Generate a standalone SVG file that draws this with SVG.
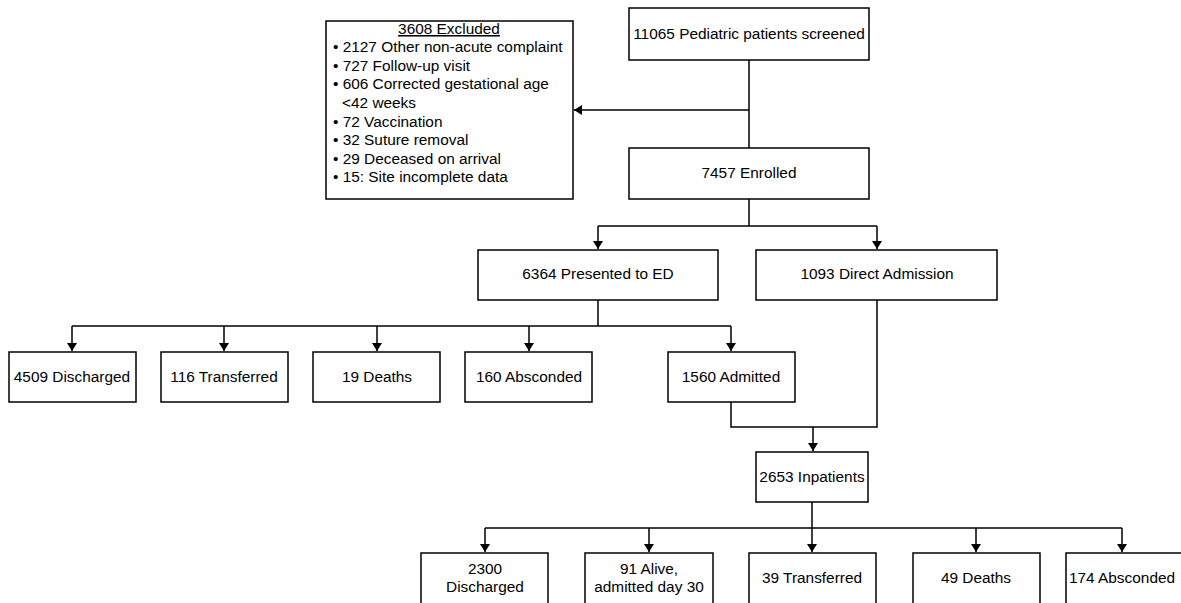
<svg xmlns="http://www.w3.org/2000/svg" width="1181" height="603" viewBox="0 0 1181 603">
<style>
.box{fill:#fff;stroke:#000;stroke-width:1.5}
text{font-family:"Liberation Sans",Arial,sans-serif;font-size:15.4px;fill:#000}
.c{text-anchor:middle}
.ln{fill:none;stroke:#000;stroke-width:1.5}
</style>
<defs>
<marker id="ah" markerWidth="8" markerHeight="10" refX="8" refY="5" orient="auto" markerUnits="userSpaceOnUse">
<path d="M0,0 L8,5 L0,10 Z" fill="#000"/>
</marker>
</defs>
<rect width="1181" height="603" fill="#fff"/>
<g id="connectors">
<path class="ln" d="M749,60 V148"/>
<path class="ln" d="M749,110 H574" marker-end="url(#ah)"/>
<path class="ln" d="M749,199 V226"/>
<path class="ln" d="M598,226 H877"/>
<path class="ln" d="M598,226 V249" marker-end="url(#ah)"/>
<path class="ln" d="M877,226 V249" marker-end="url(#ah)"/>
<path class="ln" d="M598,300 V326"/>
<path class="ln" d="M72,326 H731"/>
<path class="ln" d="M72,326 V351" marker-end="url(#ah)"/>
<path class="ln" d="M224,326 V351" marker-end="url(#ah)"/>
<path class="ln" d="M377,326 V351" marker-end="url(#ah)"/>
<path class="ln" d="M529,326 V351" marker-end="url(#ah)"/>
<path class="ln" d="M731,326 V351" marker-end="url(#ah)"/>
<path class="ln" d="M731,402 V427 H877 V300"/>
<path class="ln" d="M813,427 V451" marker-end="url(#ah)"/>
<path class="ln" d="M812,502 V528"/>
<path class="ln" d="M485,528 H1122"/>
<path class="ln" d="M485,528 V552" marker-end="url(#ah)"/>
<path class="ln" d="M649,528 V552" marker-end="url(#ah)"/>
<path class="ln" d="M812,528 V552" marker-end="url(#ah)"/>
<path class="ln" d="M976,528 V552" marker-end="url(#ah)"/>
<path class="ln" d="M1122,528 V552" marker-end="url(#ah)"/>
</g>
<g id="screened"><rect class="box" x="629" y="8" width="240" height="52"/><text class="c" x="749" y="39">11065 Pediatric patients screened</text></g>
<g id="excluded"><rect class="box" x="326" y="21" width="247" height="178"/>
<text class="c" x="449" y="34" text-decoration="underline">3608 Excluded</text>
<text x="333" y="52">• 2127 Other non-acute complaint</text>
<text x="333" y="71">• 727 Follow-up visit</text>
<text x="333" y="89">• 606 Corrected gestational age</text>
<text x="342" y="108">&lt;42 weeks</text>
<text x="333" y="127">• 72 Vaccination</text>
<text x="333" y="145">• 32 Suture removal</text>
<text x="333" y="164">• 29 Deceased on arrival</text>
<text x="333" y="182">• 15: Site incomplete data</text>
</g>
<g id="enrolled"><rect class="box" x="629" y="148" width="240" height="51"/><text class="c" x="749" y="178">7457 Enrolled</text></g>
<g id="presented"><rect class="box" x="478" y="250" width="240" height="50"/><text class="c" x="598" y="279">6364 Presented to ED</text></g>
<g id="direct"><rect class="box" x="756" y="250" width="241" height="50"/><text class="c" x="877" y="279">1093 Direct Admission</text></g>
<g id="ed-discharged"><rect class="box" x="9" y="352" width="127" height="50"/><text class="c" x="72" y="382">4509 Discharged</text></g>
<g id="ed-transferred"><rect class="box" x="161" y="352" width="127" height="50"/><text class="c" x="224" y="382">116 Transferred</text></g>
<g id="ed-deaths"><rect class="box" x="313" y="352" width="127" height="50"/><text class="c" x="377" y="382">19 Deaths</text></g>
<g id="ed-absconded"><rect class="box" x="465" y="352" width="127" height="50"/><text class="c" x="529" y="382">160 Absconded</text></g>
<g id="admitted"><rect class="box" x="668" y="352" width="127" height="50"/><text class="c" x="731" y="382">1560 Admitted</text></g>
<g id="inpatients"><rect class="box" x="756" y="452" width="112" height="50"/><text class="c" x="812" y="482">2653 Inpatients</text></g>
<g id="ip-discharged"><rect class="box" x="421" y="553" width="127" height="55"/><text class="c" x="485" y="574">2300</text><text class="c" x="485" y="592">Discharged</text></g>
<g id="ip-alive"><rect class="box" x="585" y="553" width="128" height="55"/><text class="c" x="649" y="574">91 Alive,</text><text class="c" x="649" y="592">admitted day 30</text></g>
<g id="ip-transferred"><rect class="box" x="749" y="553" width="127" height="55"/><text class="c" x="812" y="583">39 Transferred</text></g>
<g id="ip-deaths"><rect class="box" x="913" y="553" width="127" height="55"/><text class="c" x="976" y="583">49 Deaths</text></g>
<g id="ip-absconded"><rect class="box" x="1066" y="553" width="127" height="55"/><text class="c" x="1122" y="583">174 Absconded</text></g>
</svg>
